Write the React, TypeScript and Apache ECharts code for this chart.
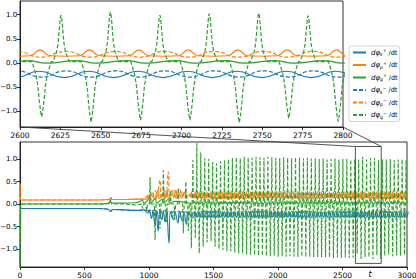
import React, { useEffect, useRef } from "react";
import * as echarts from "echarts";

const BLUE = "#1f77b4";
const ORANGE = "#ff7f0e";
const GREEN = "#2ca02c";

const TOP_X = [2600, 2800];
const TOP_Y = [-1.32, 1.28];
const BOT_X = [0, 3000];
const BOT_Y = [-1.4, 1.38];
const yTickValues = [-1, -0.5, 0, 0.5, 1];

// times of the downward / upward spikes of dφq⁻/dt in the periodic regime
const cycleDown = [
  1328.2, 1358.8, 1389.4, 1420.0, 1450.6, 1481.2, 1511.8, 1542.4, 1573.0, 1603.6,
  1634.2, 1664.8, 1695.4, 1726.0, 1756.6, 1787.2, 1817.8, 1848.4, 1879.0, 1909.6,
  1940.2, 1970.8, 2001.4, 2032.0, 2062.6, 2093.2, 2123.8, 2154.4, 2185.0, 2215.6,
  2246.2, 2276.8, 2307.4, 2338.0, 2368.6, 2399.2, 2429.8, 2460.4, 2491.0, 2521.6,
  2552.2, 2582.8, 2613.4, 2644.0, 2674.6, 2705.2, 2735.8, 2766.4, 2797.0, 2827.6,
  2858.2, 2888.8, 2919.4, 2950.0, 2980.6,
];
const cycleUp = [
  1340.2, 1370.8, 1401.4, 1432.0, 1462.6, 1493.2, 1523.8, 1554.4, 1585.0, 1615.6,
  1646.2, 1676.8, 1707.4, 1738.0, 1768.6, 1799.2, 1829.8, 1860.4, 1891.0, 1921.6,
  1952.2, 1982.8, 2013.4, 2044.0, 2074.6, 2105.2, 2135.8, 2166.4, 2197.0, 2227.6,
  2258.2, 2288.8, 2319.4, 2350.0, 2380.6, 2411.2, 2441.8, 2472.4, 2503.0, 2533.6,
  2564.2, 2594.8, 2625.4, 2656.0, 2686.6, 2717.2, 2747.8, 2778.4, 2809.0, 2839.6,
  2870.2, 2900.8, 2931.4, 2962.0, 2992.6,
];
const downDepth = [
  -0.98, -0.75, -1.1, -0.95, -0.85, -0.82, -0.95, -1.0,
  -1.02, -1.05, -1.05, -1.08, -1.1, -1.1, -1.12, -1.13,
  -1.14, -1.15, -1.15, -1.16, -1.16, -1.15, -1.17, -1.16,
  -1.17, -1.16, -1.17, -1.18, -1.17, -1.18, -1.17, -1.18,
  -1.18, -1.19, -1.18, -1.19, -1.2, -1.19, -1.2, -1.19, -1.2, -1.19,
  -1.11, -1.22, -1.18, -1.18, -1.23, -1.14, -1.21,
  -1.15, -1.13, -1.16, -1.14, -1.15, -1.13,
];
const upHeight = [
  0.98, 1.35, 1.15, 1.02, 1.0, 0.93, 0.9, 0.95,
  0.97, 1.0, 1.03, 1.04, 1.02, 1.05, 1.04, 1.03,
  1.05, 1.04, 1.03, 1.05, 1.04, 1.03, 1.02, 1.04,
  1.03, 1.02, 1.04, 1.03, 1.02, 1.03, 1.01, 1.02,
  1.0, 1.01, 0.99, 1.0, 1.01, 0.99, 1.0, 1.01, 0.99, 1.0,
  0.99, 1.05, 0.99, 1.02, 1.03, 0.98,
  1.0, 0.99, 1.0, 0.98, 0.99, 1.0, 0.98,
];

// spike shapes (time offset, fraction of the spike height)
const downSpikeOffset = [-6, -3.6, -2.4, -1.5, -0.6, 0, 0.6, 1.5, 2.4, 3.6, 6];
const downSpikeShape = [0, 0.22, 0.43, 0.7, 0.91, 1, 0.91, 0.7, 0.43, 0.22, 0];
const upSpikeOffset = [-5, -2.8, -1.8, -1.15, -0.4, 0, 0.4, 1.15, 1.8, 2.8, 5];
const upSpikeShape = [0, 0.2, 0.4, 0.67, 0.95, 1, 0.95, 0.67, 0.4, 0.2, 0];
const qMinusBase = 0.03;

// per-cycle wave shapes: [offset, value]
const kPlusWave = [[2, -0.3], [17, -0.17]]; // from up time
const kMinusWave = [[0, -0.29], [15, -0.16]]; // from down time
const pPlusWave = [[-7, 0.15], [-1, 0.27], [5, 0.15], [15, 0.14]]; // from down time
const pMinusWave = [[3, 0.24], [18, 0.12]]; // from up time
const qPlusWave = [[3, 0.0], [22, 0.05]]; // from down time

// transient part (t < 1320)
const kPlusEarly = [
  [0, -0.1], [600, -0.1], [680, -0.11], [700, -0.16], [720, -0.12], [800, -0.13], [900, -0.14],
  [960, -0.13], [990, -0.2], [1000, -0.13], [1020, -0.32], [1030, -0.14], [1045, -0.45], [1055, -0.15],
  [1071, -0.6], [1082, -0.16], [1100, -0.35], [1110, -0.15], [1125, -0.4], [1135, -0.16], [1155, -0.87],
  [1165, -0.17], [1190, -0.35], [1200, -0.17], [1225, -0.42], [1235, -0.17], [1260, -0.38], [1270, -0.18],
  [1290, -0.45], [1300, -0.18],
];
const kMinusEarly = [
  [0, -0.1], [600, -0.1], [690, -0.12], [705, -0.16], [720, -0.12], [800, -0.13], [900, -0.14],
  [990, -0.14], [1000, -0.2], [1010, -0.14], [1050, -0.14], [1060, -0.3], [1070, -0.15], [1085, -0.15],
  [1090, -0.25], [1100, -0.15], [1135, -0.15], [1140, -0.3], [1150, -0.16], [1175, -0.16], [1180, -0.3],
  [1190, -0.16], [1235, -0.16], [1240, -0.3], [1250, -0.17], [1290, -0.17], [1300, -0.28], [1310, -0.18],
];
const pPlusEarly = [
  [0, 0.45], [5, 0.09], [600, 0.09], [690, 0.1], [700, 0.14], [712, 0.1], [800, 0.1], [900, 0.11],
  [985, 0.11], [990, 0.2], [1000, 0.11], [1030, 0.25], [1040, 0.12], [1070, 0.3], [1080, 0.12],
  [1110, 0.25], [1120, 0.12], [1140, 0.3], [1150, 0.13], [1180, 0.3], [1190, 0.14], [1210, 0.3],
  [1220, 0.14], [1250, 0.28], [1260, 0.14], [1280, 0.28], [1290, 0.14], [1310, 0.2],
];
const pMinusEarly = [
  [0, 0.45], [5, 0.09], [600, 0.09], [695, 0.1], [705, 0.15], [715, 0.1], [800, 0.1], [950, 0.11],
  [1000, 0.2], [1010, 0.11], [1050, 0.3], [1060, 0.12], [1085, 0.53], [1095, 0.12], [1120, 0.3],
  [1130, 0.12], [1150, 0.72], [1160, 0.13], [1200, 0.3], [1210, 0.13], [1240, 0.32], [1250, 0.13],
  [1280, 0.3], [1290, 0.13], [1310, 0.2],
];
const qPlusEarly = [
  [0, -1.45], [6, 0.0], [600, 0.0], [690, 0.02], [700, 0.09], [712, 0.02], [800, 0.02], [900, 0.03],
  [950, 0.08], [960, 0.02], [1000, 0.1], [1010, 0.02], [1050, 0.12], [1060, 0.02], [1100, 0.1],
  [1110, 0.02], [1150, 0.1], [1160, 0.02], [1200, 0.06], [1300, 0.03],
];
const qMinusEarly = [
  [0, -1.45], [6, 0.0], [600, 0.0], [690, 0.01], [700, 0.07], [712, 0.0], [800, 0.0], [900, -0.02],
  [945, 0.0], [950, -0.1], [960, 0.0], [975, 0.0], [980, -0.15], [990, 0.0], [1003, 0.0], [1008, 0.6],
  [1016, 0.0], [1042, 0.0], [1047, -0.8], [1055, 0.0], [1080, 0.0], [1085, -0.55], [1092, 0.0],
  [1106, 0.0], [1111, 0.75], [1118, 0.0], [1130, 0.0], [1135, -0.4], [1142, 0.0], [1160, 0.0],
  [1165, 0.3], [1172, 0.0], [1195, 0.0], [1200, -0.35], [1207, 0.0], [1222, 0.0], [1227, 0.36],
  [1234, 0.0], [1261, 0.0], [1266, -0.65], [1273, 0.0], [1280, 0.0], [1285, 0.5], [1292, 0.0],
  [1300, 0.0], [1305, -0.6], [1312, 0.0],
];

function wave(early: number[][], times: number[], pattern: number[][]) {
  const out = early.map((p) => [p[0], p[1]]);
  times.forEach((t) => pattern.forEach((p) => out.push([t + p[0], p[1]])));
  return out;
}

function qMinusSeries() {
  const out = qMinusEarly.map((p) => [p[0], p[1]]);
  cycleDown.forEach((d, k) => {
    downSpikeOffset.forEach((o, i) =>
      out.push([d + o, qMinusBase + (downDepth[k] - qMinusBase) * downSpikeShape[i]])
    );
    const u = cycleUp[k];
    upSpikeOffset.forEach((o, i) =>
      out.push([u + o, qMinusBase + (upHeight[k] - qMinusBase) * upSpikeShape[i]])
    );
  });
  return out;
}

const defs = [
  { name: "k+", sub: "k", sign: "+", color: BLUE, dash: false, smooth: true, data: wave(kPlusEarly, cycleUp, kPlusWave) },
  { name: "p+", sub: "p", sign: "+", color: ORANGE, dash: false, smooth: true, data: wave(pPlusEarly, cycleDown, pPlusWave) },
  { name: "q+", sub: "q", sign: "+", color: GREEN, dash: false, smooth: true, data: wave(qPlusEarly, cycleDown, qPlusWave) },
  { name: "k-", sub: "k", sign: "\u2212", color: BLUE, dash: true, smooth: true, data: wave(kMinusEarly, cycleDown, kMinusWave) },
  { name: "p-", sub: "p", sign: "\u2212", color: ORANGE, dash: true, smooth: true, data: wave(pMinusEarly, cycleUp, pMinusWave) },
  { name: "q-", sub: "q", sign: "\u2212", color: GREEN, dash: true, smooth: false, data: qMinusSeries() },
];

const FONT = "DejaVu Sans";
const TICK_FONT = 7.5;
const Y_TICK_FONT = 7;
const yLabel = (v: number) => (v < 0 ? "\u2212" : "") + Math.abs(v).toFixed(1);

function xAxis(idx: number, range: number[], interval: number) {
  return {
    type: "value",
    gridIndex: idx,
    min: range[0],
    max: range[1],
    interval,
    axisLine: { show: true, onZero: false, lineStyle: { color: "#000", width: 0.8 } },
    axisTick: { show: true, length: 3, lineStyle: { color: "#000", width: 0.8 } },
    splitLine: { show: false },
    axisLabel: { color: "#000", fontSize: TICK_FONT, fontFamily: FONT, margin: 4, formatter: (v: number) => String(v) },
  };
}
function yAxis(idx: number, range: number[]) {
  return {
    type: "value",
    gridIndex: idx,
    min: range[0],
    max: range[1],
    axisLine: { show: true, onZero: false, lineStyle: { color: "#000", width: 0.8 } },
    axisTick: { show: true, length: 3, customValues: yTickValues, lineStyle: { color: "#000", width: 0.8 } },
    splitLine: { show: false },
    axisLabel: { color: "#000", fontSize: Y_TICK_FONT, fontFamily: FONT, margin: 2.8, customValues: yTickValues, formatter: yLabel },
  };
}

export default function App() {
  const ref = useRef<HTMLDivElement>(null);
  useEffect(() => {
    const chart = echarts.init(ref.current!, null, { renderer: "svg" });
    const series: any[] = [];
    [0, 1].forEach((g) =>
      defs.forEach((d) =>
        series.push({
          type: "line",
          name: d.name,
          xAxisIndex: g,
          yAxisIndex: g,
          data: d.data,
          showSymbol: false,
          symbol: "none",
          smooth: d.smooth,
          clip: true,
          silent: true,
          lineStyle: { color: d.color, width: g === 0 ? 1.2 : 1.1, type: d.dash ? [4, 2] : "solid" },
          itemStyle: { color: d.color },
        })
      )
    );
    chart.setOption({
      animation: false,
      backgroundColor: "#fff",
      grid: [
        { left: 20, top: 1, width: 323, height: 126, show: true, borderColor: "#000", borderWidth: 0.8, containLabel: false, outerBoundsMode: "none" },
        { left: 20, top: 142, width: 387, height: 125, show: true, borderColor: "#000", borderWidth: 0.8, containLabel: false, outerBoundsMode: "none" },
      ],
      xAxis: [xAxis(0, TOP_X, 25), xAxis(1, BOT_X, 500)],
      yAxis: [yAxis(0, TOP_Y), yAxis(1, BOT_Y)],
      legend: {
        data: defs.map((d) => d.name),
        orient: "vertical",
        left: 349,
        top: 46,
        itemWidth: 13,
        itemHeight: 7,
        itemGap: 3.5,
        padding: [2, 2, 2, 3],
        backgroundColor: "rgba(255,255,255,0.8)",
        borderColor: "#cccccc",
        borderWidth: 0.8,
        borderRadius: 2,
        selectedMode: false,
        itemStyle: { opacity: 0, color: "rgba(0,0,0,0)", borderWidth: 0 },
        formatter: (name: string) => {
          const d = defs.find((x) => x.name === name)!;
          return `{d|dφ}{s|${d.sub}}{u|${d.sign}}{t| /dt}`;
        },
        textStyle: {
          color: "#000",
          fontFamily: FONT,
          fontSize: 7,
          rich: {
            d: { fontSize: 7, fontStyle: "italic", fontFamily: FONT, color: "#000", lineHeight: 9 },
            s: { fontSize: 4.5, fontStyle: "italic", fontFamily: FONT, color: "#000", lineHeight: 5, verticalAlign: "bottom" },
            u: { fontSize: 4.5, fontFamily: FONT, color: "#000", lineHeight: 5, verticalAlign: "top" },
            t: { fontSize: 6.5, fontFamily: FONT, color: "#000", lineHeight: 9 },
          },
        },
      },
      series,
    });

    const tl = chart.convertToPixel({ gridIndex: 0 }, [TOP_X[0], TOP_Y[0]]) as number[];
    const tr = chart.convertToPixel({ gridIndex: 0 }, [TOP_X[1], TOP_Y[0]]) as number[];
    const r0 = chart.convertToPixel({ gridIndex: 1 }, [TOP_X[0], TOP_Y[1]]) as number[];
    const r1 = chart.convertToPixel({ gridIndex: 1 }, [TOP_X[1], TOP_Y[0]]) as number[];
    const lineStyle = { stroke: "#404040", lineWidth: 0.9, fill: null };
    chart.setOption({
      graphic: [
        { type: "line", z: 100, silent: true, shape: { x1: tl[0], y1: tl[1], x2: r0[0], y2: r0[1] }, style: lineStyle },
        { type: "line", z: 100, silent: true, shape: { x1: tr[0], y1: tr[1], x2: r1[0], y2: r0[1] }, style: lineStyle },
        {
          type: "rect",
          z: 100,
          silent: true,
          shape: { x: r0[0], y: r0[1], width: r1[0] - r0[0], height: r1[1] - r0[1] },
          style: { stroke: "#404040", lineWidth: 0.9, fill: "none" },
        },
        {
          type: "text",
          z: 100,
          silent: true,
          x: 370,
          y: 274,
          style: { text: "t", fontFamily: FONT, fontSize: 8, fontStyle: "italic", fill: "#000", align: "center", verticalAlign: "middle" },
        },
      ],
    });
    return () => chart.dispose();
  }, []);
  return <div ref={ref} style={{ position: "fixed", left: 0, top: 0, width: 416, height: 279 }} />;
}
